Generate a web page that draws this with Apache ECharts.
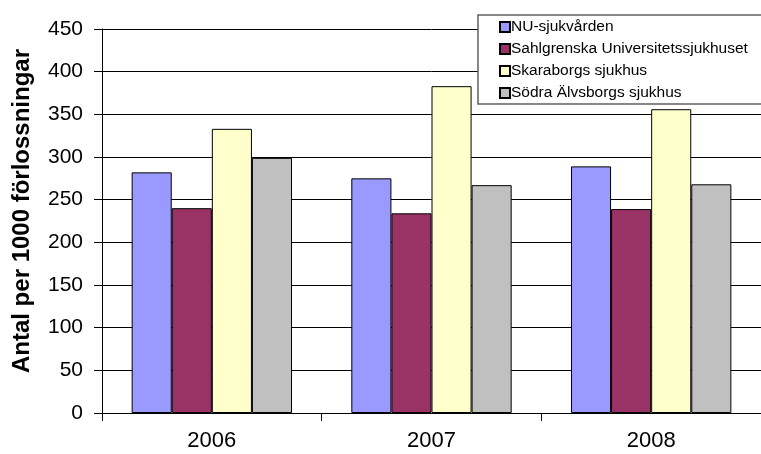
<!DOCTYPE html>
<html>
<head>
<meta charset="utf-8">
<script src="https://cdn.jsdelivr.net/npm/echarts@6/dist/echarts.min.js"></script>
<style>html,body{margin:0;padding:0;background:#fff;}#c{width:761px;height:454px;}</style>
</head>
<body>
<div id="c"></div>
<script>
var categories = ['2006', '2007', '2008'];
var seriesNames = ['NU-sjukvården', 'Sahlgrenska Universitetssjukhuset', 'Skaraborgs sjukhus', 'Södra Älvsborgs sjukhus'];
var nuValues = [282, 275, 289];
var sahlgrenskaValues = [240, 234, 239];
var skaraborgValues = [333, 383, 356];
var sodraValues = [299, 267, 268];
var yTicks = [0, 50, 100, 150, 200, 250, 300, 350, 400, 450];
var colors = ['#9999FF', '#993366', '#FFFFCC', '#C0C0C0'];
var allValues = [nuValues, sahlgrenskaValues, skaraborgValues, sodraValues];

var font = 'Liberation Sans, Arial, sans-serif';
var chart = echarts.init(document.getElementById('c'), null, {renderer: 'canvas'});
var series = seriesNames.map(function (n, i) {
  return {
    name: n,
    type: 'bar',
    data: allValues[i],
    barGap: '0%',
    barCategoryGap: '27%',
    itemStyle: {color: colors[i], borderColor: '#000', borderWidth: 1},
    emphasis: {disabled: true}
  };
});
chart.setOption({
  animation: false,
  backgroundColor: '#fff',
  grid: {left: 102, top: 29, width: 661, bottom: 41, containLabel: false},
  legend: {
    orient: 'vertical',
    left: 478,
    top: 15,
    padding: [4, 20, 3, 21],
    itemGap: 6,
    itemWidth: 10,
    itemHeight: 10,
    icon: 'rect',
    backgroundColor: '#fff',
    borderColor: '#606060',
    borderWidth: 1.5,
    borderRadius: 0,
    textStyle: {fontFamily: font, fontSize: 15.5, color: '#000', padding: [0, 0, 0, -4]},
    data: seriesNames
  },
  xAxis: {
    type: 'category',
    data: categories,
    axisLine: {lineStyle: {color: '#000', width: 1}},
    axisTick: {show: true, length: 8, lineStyle: {color: '#000'}},
    axisLabel: {fontFamily: font, fontSize: 22, color: '#000', margin: 17}
  },
  yAxis: {
    type: 'value',
    min: 0,
    max: 450,
    interval: 50,
    name: 'Antal per 1000 förlossningar',
    nameLocation: 'middle',
    nameGap: 68,
    nameRotate: 90,
    nameTextStyle: {fontFamily: font, fontSize: 24, fontWeight: 'bold', color: '#000', padding: [0, 0, 0, 20]},
    axisLine: {show: true, lineStyle: {color: '#000', width: 1}},
    axisTick: {show: true, length: 8, lineStyle: {color: '#000'}},
    axisLabel: {fontFamily: font, fontSize: 21, color: '#000', margin: 19,
      formatter: function (v) { return yTicks.indexOf(v) >= 0 ? String(v) : ''; }},
    splitLine: {show: true, lineStyle: {color: '#000', width: 1}}
  },
  series: series
});
</script>
</body>
</html>
